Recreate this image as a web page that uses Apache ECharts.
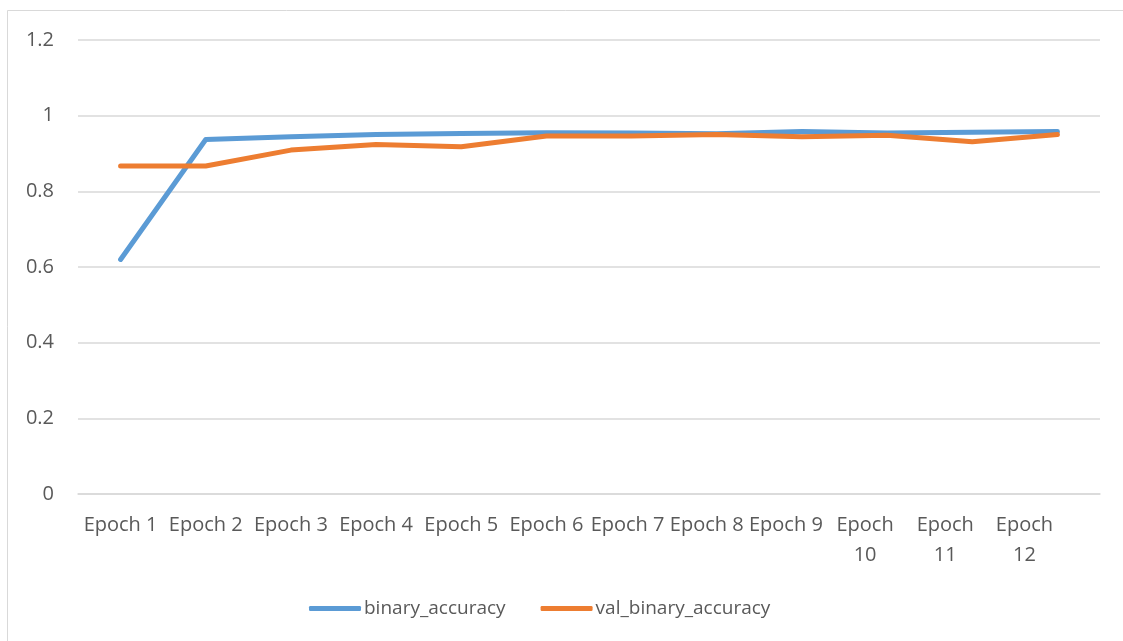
<!DOCTYPE html>
<html>
<head>
<meta charset="utf-8">
<script src="https://cdn.jsdelivr.net/npm/echarts@6/dist/echarts.min.js"></script>
<style>
  html, body { margin: 0; padding: 0; background: #ffffff; }
  #chart { width: 1123px; height: 641px; }
</style>
</head>
<body>
<div id="chart"></div>
<script>
// Training history: accuracy per epoch
const epochs = ['Epoch 1', 'Epoch 2', 'Epoch 3', 'Epoch 4', 'Epoch 5', 'Epoch 6',
                'Epoch 7', 'Epoch 8', 'Epoch 9', 'Epoch 10', 'Epoch 11', 'Epoch 12'];
const binaryAccuracy    = [0.620, 0.937, 0.944, 0.950, 0.953, 0.955, 0.954, 0.952, 0.958, 0.954, 0.956, 0.958];
const valBinaryAccuracy = [0.867, 0.867, 0.909, 0.924, 0.918, 0.946, 0.946, 0.950, 0.944, 0.948, 0.931, 0.950];
const yTicks = [0, 0.2, 0.4, 0.6, 0.8, 1, 1.2];

const textColor = '#595959';
const gridColor = '#d9d9d9';
const fontFamily = '"Open Sans", "Liberation Sans", sans-serif';

// Leftward nudge of each category label (px)
const labelNudge = [0, 0, 0, 0, 0, 0, 4, 10, 16, 22, 27, 33];
const rich = {};
labelNudge.forEach((n, i) => {
  rich['s' + i] = {
    fontSize: 20, fontFamily: fontFamily, color: textColor, lineHeight: 30,
    padding: [0, 2 * n, 0, 0]
  };
});

const chart = echarts.init(document.getElementById('chart'), null, { renderer: 'canvas' });
chart.setOption({
  animation: false,
  backgroundColor: '#ffffff',
  graphic: [{
    type: 'rect',
    shape: { x: 7.5, y: 10.5, width: 1300, height: 800 },
    style: { fill: 'none', stroke: gridColor, lineWidth: 1 },
    silent: true
  }],
  grid: { left: 78, right: 23, top: 40, bottom: 147, containLabel: false },
  legend: {
    bottom: 23,
    left: 309,
    padding: 0,
    icon: 'roundRect',
    itemWidth: 52,
    itemHeight: 5,
    itemGap: 35,
    textStyle: { fontSize: 19, fontFamily: fontFamily, color: textColor, padding: [0, 0, 0, -2] },
    data: ['binary_accuracy', 'val_binary_accuracy']
  },
  xAxis: {
    type: 'category',
    data: epochs,
    boundaryGap: true,
    axisLine: { show: true, lineStyle: { color: gridColor, width: 1.5 } },
    axisTick: { show: false },
    axisLabel: {
      interval: 0,
      margin: 16,
      formatter: (value, idx) => {
        const parts = value.length > 7 ? value.split(' ') : [value];
        return parts.map(p => '{s' + idx + '|' + p + '}').join('\n');
      },
      rich: rich
    }
  },
  yAxis: {
    type: 'value',
    min: yTicks[0],
    max: yTicks[yTicks.length - 1],
    interval: 0.2,
    axisLine: { show: false },
    axisTick: { show: false },
    axisLabel: {
      margin: 24,
      fontSize: 20,
      fontFamily: fontFamily,
      color: textColor,
      formatter: v => String(parseFloat(v.toFixed(1)))
    },
    splitLine: { lineStyle: { color: gridColor, width: 1.5 } }
  },
  series: [
    {
      name: 'binary_accuracy',
      type: 'line',
      data: binaryAccuracy,
      symbol: 'none',
      color: '#5b9bd5',
      lineStyle: { width: 5, color: '#5b9bd5', cap: 'round', join: 'round' }
    },
    {
      name: 'val_binary_accuracy',
      type: 'line',
      data: valBinaryAccuracy,
      symbol: 'none',
      color: '#ed7d31',
      lineStyle: { width: 5, color: '#ed7d31', cap: 'round', join: 'round' }
    }
  ]
});
</script>
</body>
</html>
